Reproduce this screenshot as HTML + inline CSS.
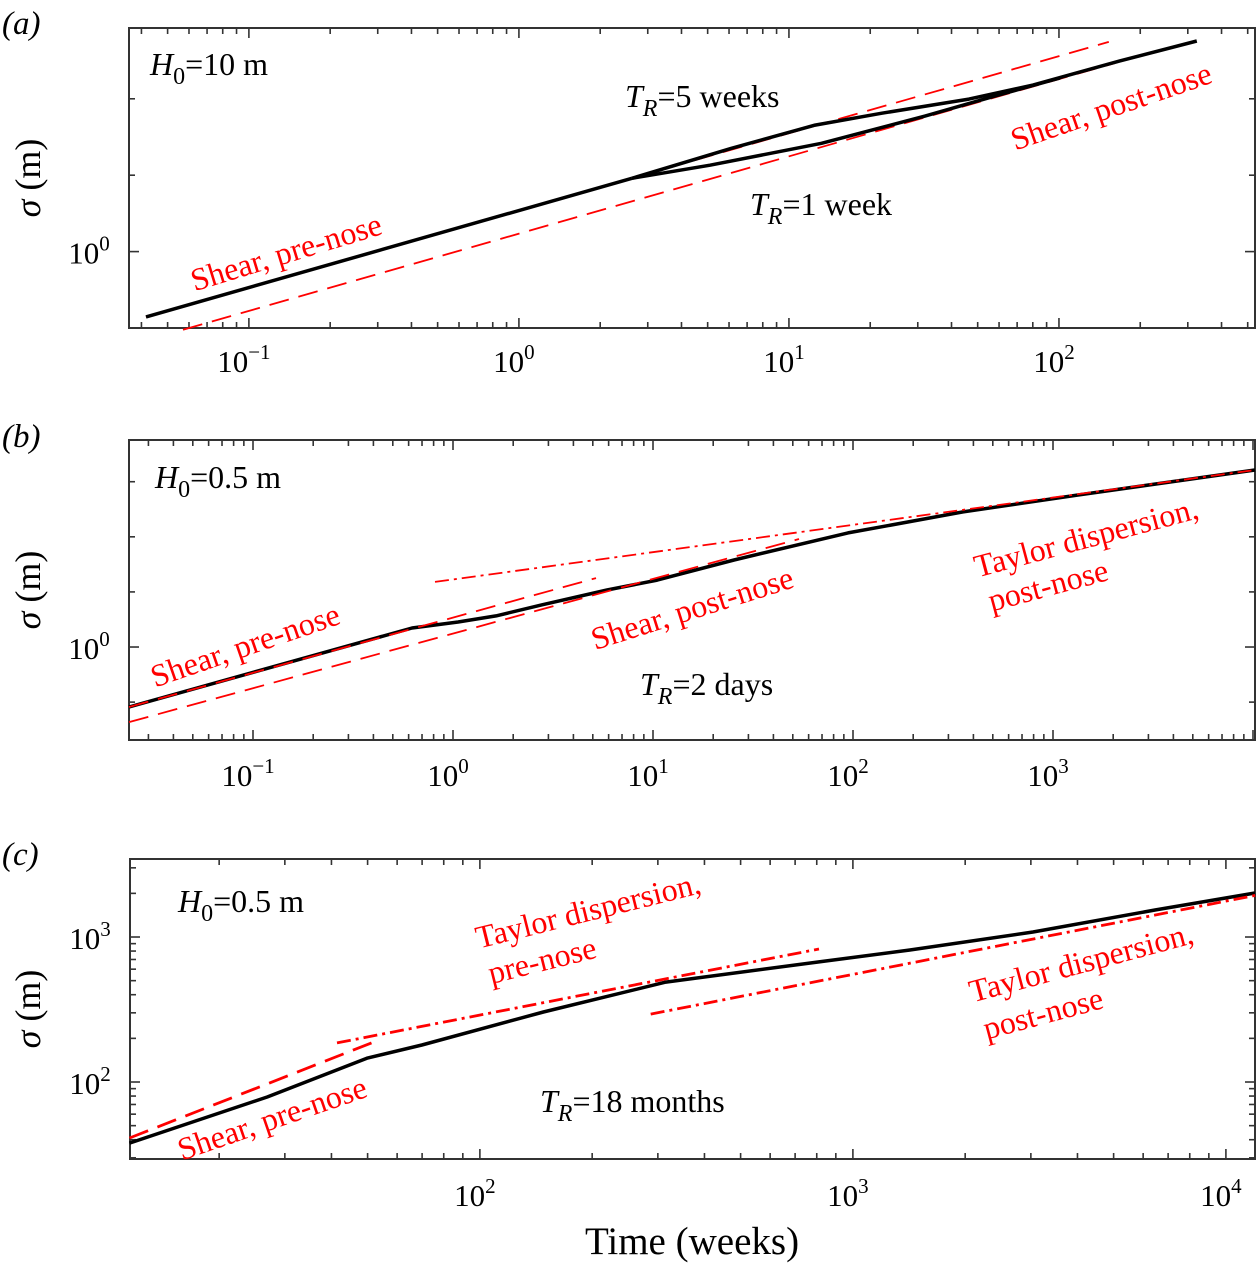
<!DOCTYPE html>
<html><head><meta charset="utf-8"><style>
body{margin:0;background:#fff;}
svg{display:block;font-family:"Liberation Serif",serif;}
</style></head><body>
<svg id="fig" width="1257" height="1266" viewBox="0 0 1257 1266" xmlns="http://www.w3.org/2000/svg">
<g id="layer"></g>
<g font-size="32">
  <text x="2" y="34" font-size="33" font-style="italic">(a)</text>
  <text x="2" y="447" font-size="33" font-style="italic">(b)</text>
  <text x="2" y="865" font-size="33" font-style="italic">(c)</text>
  <text transform="translate(40,178) rotate(-90)" text-anchor="middle" font-size="36"><tspan font-style="italic">σ</tspan> (m)</text>
  <text transform="translate(40,590) rotate(-90)" text-anchor="middle" font-size="36"><tspan font-style="italic">σ</tspan> (m)</text>
  <text transform="translate(40,1009) rotate(-90)" text-anchor="middle" font-size="36"><tspan font-style="italic">σ</tspan> (m)</text>
  <text x="692" y="1254" text-anchor="middle" font-size="39">Time (weeks)</text>

  <text x="150" y="75"><tspan font-style="italic">H</tspan><tspan font-size="24" dy="9">0</tspan><tspan dy="-9">=10 m</tspan></text>
  <text x="625" y="107"><tspan font-style="italic">T</tspan><tspan font-size="24" dy="9" font-style="italic">R</tspan><tspan dy="-9">=5 weeks</tspan></text>
  <text x="750" y="215"><tspan font-style="italic">T</tspan><tspan font-size="24" dy="9" font-style="italic">R</tspan><tspan dy="-9">=1 week</tspan></text>
  <text fill="#ff0000" text-anchor="middle" dominant-baseline="central" transform="translate(286,252) rotate(-17)">Shear, pre-nose</text>
  <text fill="#ff0000" text-anchor="middle" dominant-baseline="central" transform="translate(1111,106) rotate(-19)">Shear, post-nose</text>

  <text x="155" y="488"><tspan font-style="italic">H</tspan><tspan font-size="24" dy="9">0</tspan><tspan dy="-9">=0.5 m</tspan></text>
  <text x="640" y="695"><tspan font-style="italic">T</tspan><tspan font-size="24" dy="9" font-style="italic">R</tspan><tspan dy="-9">=2 days</tspan></text>
  <text fill="#ff0000" text-anchor="middle" dominant-baseline="central" transform="translate(245,645) rotate(-19)">Shear, pre-nose</text>
  <text fill="#ff0000" text-anchor="middle" dominant-baseline="central" transform="translate(692,608) rotate(-17.5)">Shear, post-nose</text>
  <text fill="#ff0000" text-anchor="middle" dominant-baseline="central" transform="translate(1086,537) rotate(-15)">Taylor dispersion,</text>
  <text fill="#ff0000" text-anchor="middle" dominant-baseline="central" transform="translate(1048,585) rotate(-15)">post-nose</text>

  <text x="178" y="912"><tspan font-style="italic">H</tspan><tspan font-size="24" dy="9">0</tspan><tspan dy="-9">=0.5 m</tspan></text>
  <text x="540" y="1112"><tspan font-style="italic">T</tspan><tspan font-size="24" dy="9" font-style="italic">R</tspan><tspan dy="-9">=18 months</tspan></text>
  <text fill="#ff0000" text-anchor="middle" dominant-baseline="central" transform="translate(588,910) rotate(-14)">Taylor dispersion,</text>
  <text fill="#ff0000" text-anchor="middle" dominant-baseline="central" transform="translate(542,960) rotate(-14)">pre-nose</text>
  <text fill="#ff0000" text-anchor="middle" dominant-baseline="central" transform="translate(1081,962) rotate(-15)">Taylor dispersion,</text>
  <text fill="#ff0000" text-anchor="middle" dominant-baseline="central" transform="translate(1043,1013) rotate(-15)">post-nose</text>
  <text fill="#ff0000" text-anchor="middle" dominant-baseline="central" transform="translate(272,1118) rotate(-19)">Shear, pre-nose</text>
</g>
</svg>
<script>
// ---- Panel (a) data ----
const aBaseX = [0.0416, 2.62];
const aBaseY = [0.553, 1.944];
const aWeek5X = [2.62, 6.10, 12.5, 22.1, 46.4, 80.1, 168, 324];
const aWeek5Y = [1.944, 2.55, 3.15, 3.51, 3.99, 4.53, 5.64, 6.76];
const aWeek1X = [2.62, 5.10, 13.2, 31.9, 57.9, 101];
const aWeek1Y = [1.944, 2.19, 2.67, 3.42, 4.10, 4.83];
const aShearPreX = [0.0416, 153];
const aShearPreY = [0.553, 6.70];
const aShearPostX = [0.057, 161];
const aShearPostY = [0.492, 5.53];
const aXTicks = [-1, 0, 1, 2];
const aYTicks = [0];
const aYMinor = [2, 4];
// ---- Panel (b) data ----
const bSimX = [0.024, 0.624, 1.06, 1.64, 2.79, 5.89, 10.5, 25.4, 94.4, 355, 1334, 10230];
const bSimY = [0.470, 1.27, 1.37, 1.48, 1.70, 2.05, 2.32, 2.99, 4.20, 5.47, 6.77, 9.27];
const bShearPreX = [0.024, 5.19];
const bShearPreY = [0.470, 2.38];
const bShearPostX = [0.024, 53.7];
const bShearPostY = [0.389, 3.89];
const bTaylorX = [0.813, 10230];
const bTaylorY = [2.27, 9.27];
const bXTicks = [-1, 0, 1, 2, 3];
const bYTicks = [0];
const bYMinor = [0.5, 2, 4, 8];
// ---- Panel (c) data ----
const cSimX = [11.5, 26.9, 49.8, 69.9, 148, 315, 811, 1422, 3039, 6457, 11970];
const cSimY = [37.9, 78.8, 146, 180, 304, 489, 673, 813, 1082, 1536, 2011];
const cShearPreX = [11.5, 53.6];
const cShearPreY = [41.1, 195];
const cTaylorPreX = [41.4, 811];
const cTaylorPreY = [186, 826];
const cTaylorPostX = [287, 12130];
const cTaylorPostY = [294, 1950];
const cXTicks = [2, 3, 4];
const cYTicks = [2, 3];

const NS = 'http://www.w3.org/2000/svg';
const layer = document.getElementById('layer');
function mk(tag, attrs, parent) {
  const e = document.createElementNS(NS, tag);
  for (const k in attrs) e.setAttribute(k, attrs[k]);
  (parent || layer).appendChild(e);
  return e;
}
function makeAxes(x0, x1, y0, y1, lx0, lx1, ly0, ly1) {
  return {
    x: v => x0 + (Math.log10(v) - lx0) / (lx1 - lx0) * (x1 - x0),
    y: v => y1 - (Math.log10(v) - ly0) / (ly1 - ly0) * (y1 - y0),
    x0, x1, y0, y1, lx0, lx1, ly0, ly1
  };
}
function drawFrame(ax, name, xTicks, yTicks, yMinor, labelY) {
  const g = mk('g', {});
  
  
  const st = {stroke: '#333', 'stroke-width': 1.6};
  for (let d = Math.floor(ax.lx0); d <= Math.ceil(ax.lx1); d++) {
    for (let k = 1; k < 10; k++) {
      const lv = d + Math.log10(k);
      if (lv < ax.lx0 || lv > ax.lx1) continue;
      const px = ax.x(Math.pow(10, lv));
      const len = k === 1 ? 10 : 6;
      mk('line', Object.assign({x1: px, x2: px, y1: ax.y1, y2: ax.y1 - len}, st), g);
      mk('line', Object.assign({x1: px, x2: px, y1: ax.y0, y2: ax.y0 + len}, st), g);
    }
  }
  const yVals = [];
  if (yMinor) {
    yTicks.forEach(t => yVals.push([Math.pow(10, t), true]));
    yMinor.forEach(v => yVals.push([v, false]));
  } else {
    for (let d = Math.floor(ax.ly0); d <= Math.ceil(ax.ly1); d++) {
      for (let k = 1; k < 10; k++) {
        const lv = d + Math.log10(k);
        if (lv < ax.ly0 || lv > ax.ly1) continue;
        yVals.push([Math.pow(10, lv), k === 1]);
      }
    }
  }
  yVals.forEach(([v, major]) => {
    const py = ax.y(v);
    const len = major ? 10 : 6;
    mk('line', Object.assign({x1: ax.x0, x2: ax.x0 + len, y1: py, y2: py}, st), g);
    mk('line', Object.assign({x1: ax.x1, x2: ax.x1 - len, y1: py, y2: py}, st), g);
  });
  mk('rect', {x: ax.x0, y: ax.y0, width: ax.x1 - ax.x0, height: ax.y1 - ax.y0, fill: 'none', stroke: '#333', 'stroke-width': 2}, g);
  xTicks.forEach(t => {
    const tx = mk('text', {x: ax.x(Math.pow(10, t)) - 5, y: labelY, 'text-anchor': 'middle', 'font-size': 31}, g);
    
    
    tx.innerHTML = '10<tspan dy="-13" font-size="21">' + (t < 0 ? '\u2212' + (-t) : t) + '</tspan>';
  });
  yTicks.forEach(t => {
    const ty = mk('text', {x: ax.x0 - 40, y: ax.y(Math.pow(10, t)) + 12, 'text-anchor': 'middle', 'font-size': 31}, g);
    
    
    ty.innerHTML = '10<tspan dy="-13" font-size="21">' + t + '</tspan>';
  });
}
function drawLine(ax, xs, ys, name, color, width, dash) {
  const pts = xs.map((v, i) => ax.x(v).toFixed(1) + ',' + ax.y(ys[i]).toFixed(1)).join(' ');
  const attrs = {points: pts, fill: 'none', stroke: color, 'stroke-width': width, 'stroke-linejoin': 'round'};
  if (dash) attrs['stroke-dasharray'] = dash;
  const p = mk('polyline', attrs);
  
  
}
const DASH = '20 10';
const DASHDOT = '14 5 3 5';
const axA = makeAxes(129, 1255, 28, 328, -1.444, 2.726, Math.log10(0.5), 0.881);
drawFrame(axA, 'panel-a', aXTicks, aYTicks, aYMinor, 372);
drawLine(axA, aShearPreX, aShearPreY, 'shear-pre-nose-a', '#ff0000', 1.8, DASH);
drawLine(axA, aShearPostX, aShearPostY, 'shear-post-nose-a', '#ff0000', 1.8, DASH);
drawLine(axA, aBaseX, aBaseY, 'sim-early-a', '#000', 3.5);
drawLine(axA, aWeek5X, aWeek5Y, 'sim-5-weeks', '#000', 3.5);
drawLine(axA, aWeek1X, aWeek1Y, 'sim-1-week', '#000', 3.5);
const axB = makeAxes(129, 1255, 440, 740, -1.62, 4.01, -0.508, 1.131);
drawFrame(axB, 'panel-b', bXTicks, bYTicks, bYMinor, 786);
drawLine(axB, bSimX, bSimY, 'sim-2-days', '#000', 3.5);
drawLine(axB, bShearPreX, bShearPreY, 'shear-pre-nose-b', '#ff0000', 1.8, DASH);
drawLine(axB, bShearPostX, bShearPostY, 'shear-post-nose-b', '#ff0000', 1.8, DASH);
drawLine(axB, bTaylorX, bTaylorY, 'taylor-post-nose-b', '#ff0000', 1.8, DASHDOT);
const axC = makeAxes(130, 1255, 859, 1159, 1.062, 4.078, 1.469, 3.538);
drawFrame(axC, 'panel-c', cXTicks, cYTicks, null, 1206);
drawLine(axC, cSimX, cSimY, 'sim-18-months', '#000', 3.5);
drawLine(axC, cShearPreX, cShearPreY, 'shear-pre-nose-c', '#ff0000', 2.8, DASH);
drawLine(axC, cTaylorPreX, cTaylorPreY, 'taylor-pre-nose-c', '#ff0000', 2.8, DASHDOT);
drawLine(axC, cTaylorPostX, cTaylorPostY, 'taylor-post-nose-c', '#ff0000', 2.8, DASHDOT);
</script>
</body></html>
